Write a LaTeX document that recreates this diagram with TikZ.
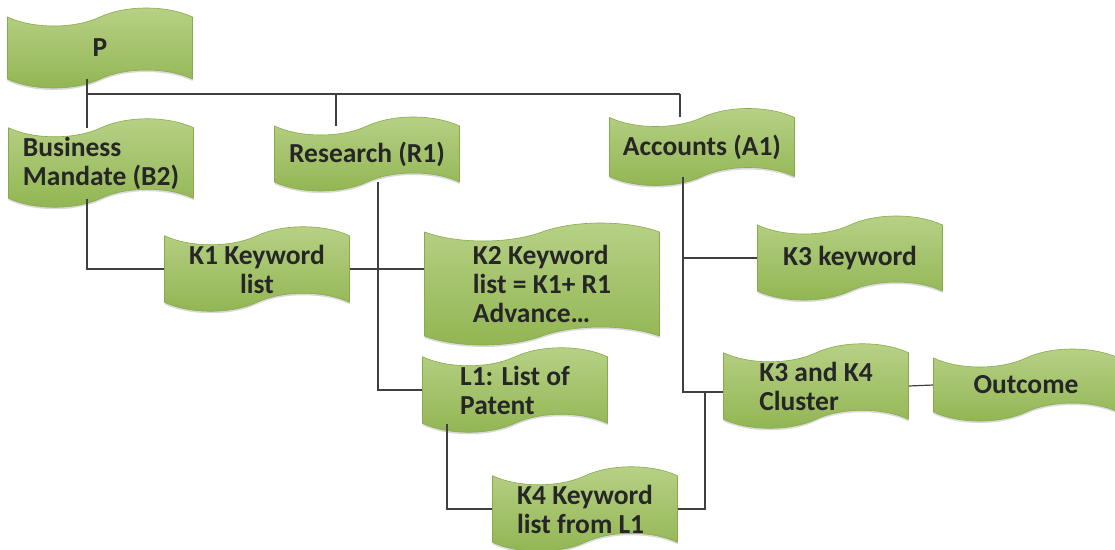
\documentclass[tikz,border=0pt]{standalone}
\usepackage{fontspec}
\setmainfont{Carlito}
\usetikzlibrary{shapes.symbols,shadows}
\definecolor{TapeTop}{rgb}{0.72,0.82,0.53}
\definecolor{TapeMid}{rgb}{0.79,0.87,0.63}
\definecolor{TapeBot}{rgb}{0.57,0.71,0.32}
\definecolor{TapeLine}{rgb}{0.53,0.67,0.29}
\definecolor{LinkClr}{rgb}{0.25,0.25,0.25}

\begin{document}
\begin{tikzpicture}[x=1pt,y=-1pt,
  tapebox/.style={tape,draw=TapeLine,line width=0.6pt,top color=TapeTop,middle color=TapeMid,bottom color=TapeBot,
    minimum width=185pt,minimum height=74pt,tape bend height=18pt,align=left,inner xsep=8pt,inner ysep=0pt,
    font=\fontsize{27.5}{29}\selectfont\bfseries,text=black!85,
    drop shadow={shadow xshift=0pt,shadow yshift=-2pt,opacity=0.3}},
  link/.style={line width=1.2pt,color=LinkClr}]

\useasboundingbox (0,0) rectangle (1115,549);

\node[tapebox,minimum height=80pt] (P) at (100,48) {P};
\node[tapebox] (B) at (101,163) {Business\\Mandate (B2)};
\node[tapebox] (R) at (367,154) {Research (R1)};
\node[tapebox,minimum height=77pt] (A) at (702,147) {Accounts (A1)};

\node[tapebox,align=center,minimum height=82pt] (K1) at (257,269) {K1 Keyword\\list};
\node[tapebox,minimum width=235pt,minimum height=122pt] (K2) at (542,284) {K2 Keyword\\list = K1+ R1\\Advance…};
\node[tapebox,minimum height=84pt] (K3) at (850,258) {K3 keyword};

\node[tapebox,minimum height=72pt] (L1) at (515,390) {L1: List of\\Patent};
\node[tapebox] (K4) at (585,509) {K4 Keyword\\list from L1};
\node[tapebox,minimum height=72pt] (K34) at (816,386) {K3 and K4\\Cluster};
\node[tapebox,minimum height=72pt] (Out) at (1026,385) {Outcome};

\coordinate (bus) at (680,94);
\coordinate (jA) at (683,392);
\coordinate (jK4) at (705,392);

\draw[link] (P.south -| 87,0) |- (bus);
\draw[link] (87,94) -- (B.north -| 87,0);
\draw[link] (336,94) -- (R.north -| 336,0);
\draw[link] (bus) -- (A.north -| bus);

\draw[link] (B.south -| 87,0) |- (K1.west);
\draw[link] (K1.east) -- (K1.east -| K2.west);
\draw[link] (R.south -| 378,0) |- (L1.west);
\draw[link] (L1.south -| 447,0) |- (K4.west);

\draw[link] (A.south -| jA) -- (jA) -- (jA -| K34.west);
\draw[link] (K3.west -| jA) -- (K3.west);
\draw[link] (K4.east) -| (jK4);
\draw[link] (K34.east) -- (Out.west);

\end{tikzpicture}
\end{document}
